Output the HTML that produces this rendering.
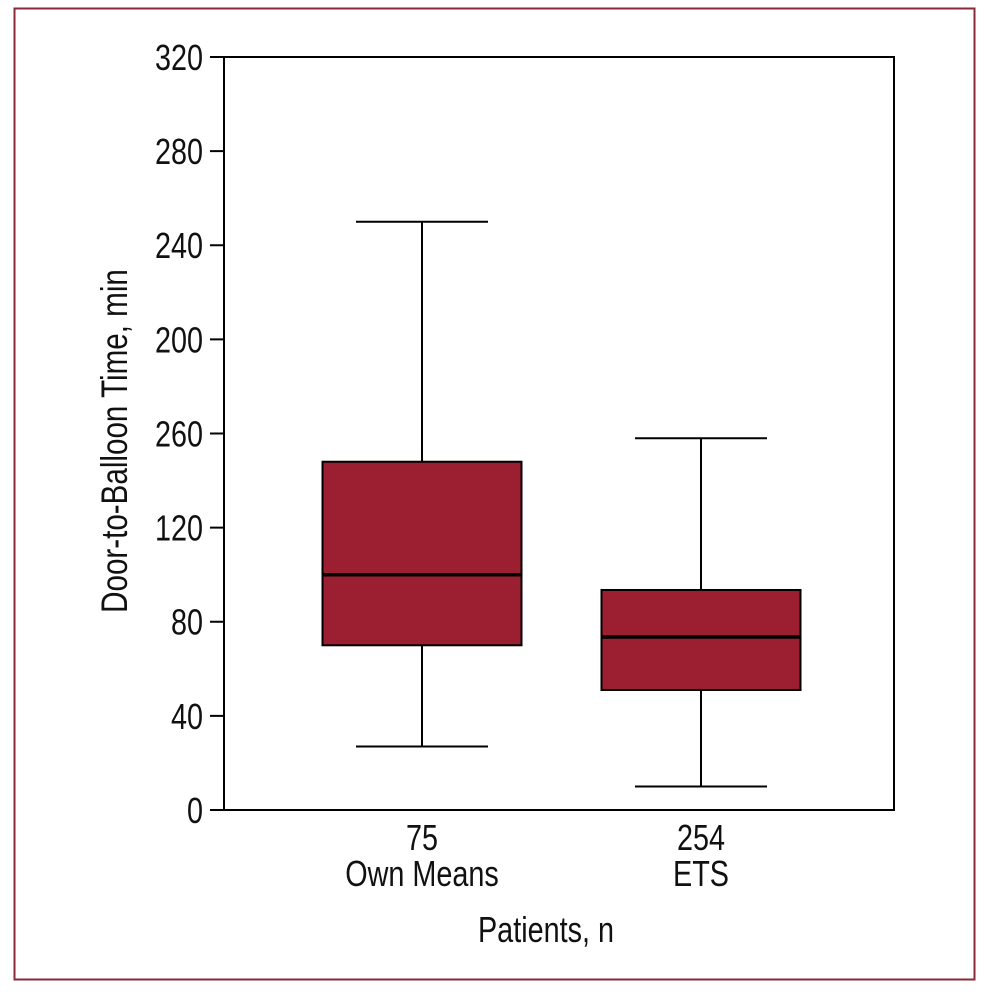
<!DOCTYPE html>
<html><head><meta charset="utf-8"><style>
html,body{margin:0;padding:0;background:#fff;}
svg text{font-family:"Liberation Sans",sans-serif;fill:#111;}
</style></head><body>
<svg width="995" height="991" viewBox="0 0 995 991" xmlns="http://www.w3.org/2000/svg">
<rect x="14.5" y="8.5" width="960" height="971" fill="none" stroke="#8a2a3a" stroke-width="2"/>
<g id="plot"></g>
</svg>
<script>
const categories = ["Own Means","ETS"];
const counts = ["75","254"];
const whiskerLow = [27,10];
const q1 = [70,51];
const median = [100,73.5];
const q3 = [148,93.5];
const whiskerHigh = [250,158];
const tickValues = [0,40,80,120,160,200,240,280,320];
const tickLabels = ["0","40","80","120","260","200","240","280","320"];

const NS="http://www.w3.org/2000/svg";
const g=document.getElementById('plot');
const X0=224,X1=894,Y0=810,Y1=57;
const y=v=>Y0-(v/320)*(Y0-Y1);
const centers=[422,701];
const x=i=>centers[i];
function mk(t,a){const e=document.createElementNS(NS,t);for(const k in a)e.setAttribute(k,a[k]);g.appendChild(e);return e;}
const frame=mk('rect',{x:X0,y:Y1,width:X1-X0,height:Y0-Y1,fill:'none',stroke:'#000','stroke-width':2});


tickValues.forEach((v,i)=>{
  const t=mk('line',{x1:210,x2:X0,y1:y(v),y2:y(v),stroke:'#000','stroke-width':2});
  
  
  const l=mk('text',{x:203/0.8,y:y(v)+13,'font-size':36,'text-anchor':'end',transform:'scale(0.8,1)'});
  l.textContent=tickLabels[i];
  
  
});
categories.forEach((c,i)=>{
  const cx=x(i),hw=99.5,cw=66;
  const w1=mk('line',{x1:cx,x2:cx,y1:y(whiskerHigh[i]),y2:y(q3[i]),stroke:'#000','stroke-width':2});
  
  
  const w2=mk('line',{x1:cx,x2:cx,y1:y(q1[i]),y2:y(whiskerLow[i]),stroke:'#000','stroke-width':2});
  
  
  const c1=mk('line',{x1:cx-cw,x2:cx+cw,y1:y(whiskerHigh[i]),y2:y(whiskerHigh[i]),stroke:'#000','stroke-width':2});
  
  
  const c2=mk('line',{x1:cx-cw,x2:cx+cw,y1:y(whiskerLow[i]),y2:y(whiskerLow[i]),stroke:'#000','stroke-width':2});
  
  
  const b=mk('rect',{x:cx-hw,y:y(q3[i]),width:2*hw,height:y(q1[i])-y(q3[i]),fill:'#9b1e31',stroke:'#000','stroke-width':2});
  
  
  const m=mk('line',{x1:cx-hw,x2:cx+hw,y1:y(median[i]),y2:y(median[i]),stroke:'#000','stroke-width':3.5});
  
  
  const t1=mk('text',{x:cx/0.8,y:850,'font-size':36,'text-anchor':'middle',transform:'scale(0.8,1)'});
  t1.textContent=counts[i];
  
  
  const t2=mk('text',{x:cx/0.8,y:886,'font-size':36,'text-anchor':'middle',transform:'scale(0.8,1)'});
  t2.textContent=c;
  
  
});
const xt=mk('text',{x:546/0.8,y:942,'font-size':36,'text-anchor':'middle',transform:'scale(0.8,1)'});
xt.textContent="Patients, n";


const yt=mk('text',{x:0,y:0,'font-size':37,'text-anchor':'middle',transform:'translate(127,441) rotate(-90) scale(0.8,1)'});
yt.textContent="Door-to-Balloon Time, min";


</script>
</body></html>
